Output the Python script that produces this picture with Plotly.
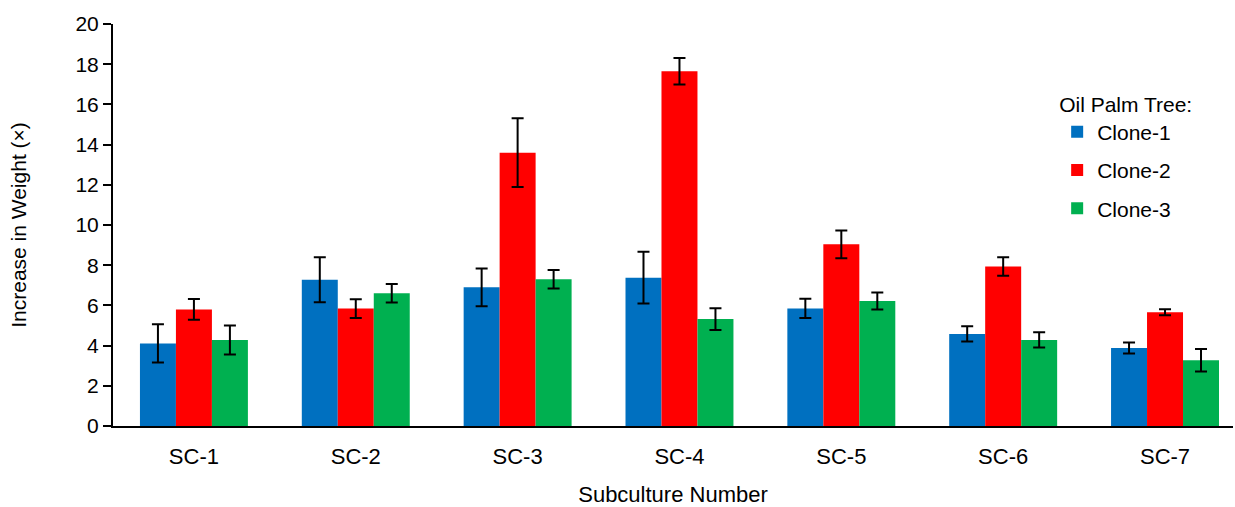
import plotly.graph_objects as go

categories = ["SC-1", "SC-2", "SC-3", "SC-4", "SC-5", "SC-6", "SC-7"]
clone1 = [4.11, 7.28, 6.90, 7.38, 5.85, 4.58, 3.88]
clone1_err = [0.95, 1.12, 0.94, 1.29, 0.48, 0.38, 0.27]
clone2 = [5.80, 5.84, 13.60, 17.65, 9.04, 7.94, 5.66]
clone2_err = [0.52, 0.47, 1.71, 0.66, 0.69, 0.46, 0.15]
clone3 = [4.28, 6.60, 7.30, 5.32, 6.22, 4.28, 3.27]
clone3_err = [0.72, 0.46, 0.46, 0.54, 0.42, 0.38, 0.56]

series = [
    ("Clone-1", clone1, clone1_err, "#0070C0"),
    ("Clone-2", clone2, clone2_err, "#FF0000"),
    ("Clone-3", clone3, clone3_err, "#00B050"),
]

fig = go.Figure()
for name, vals, errs, color in series:
    fig.add_trace(go.Bar(
        x=categories, y=vals, name=name, marker_color=color,
        marker_line_width=0, legendgroup=name,
        error_y=dict(type="data", array=errs, visible=True,
                     color="black", thickness=2, width=6),
    ))

font = "Liberation Sans, Arial, sans-serif"
fig.update_layout(
    width=1235, height=507,
    margin=dict(l=113, r=2, t=24, b=81),
    barmode="group", bargap=0.333, bargroupgap=0,
    plot_bgcolor="white", paper_bgcolor="white",
    font=dict(family=font, size=21, color="black"),
    showlegend=True,
    legend=dict(
        title=dict(text="Oil Palm Tree:", font=dict(size=21)),
        x=0.843, y=0.85, xanchor="left", yanchor="top",
        font=dict(size=21), traceorder="grouped", tracegroupgap=8,
        bgcolor="rgba(0,0,0,0)", itemwidth=30,
    ),
    xaxis=dict(
        range=[-0.5, 6.42], showline=True, linecolor="black", linewidth=2,
        ticks="", showgrid=False, tickfont=dict(size=22), ticklabelstandoff=10,
        automargin=False,
        title=dict(text="Subculture Number", font=dict(size=22), standoff=22),
    ),
    yaxis=dict(
        range=[0, 20], dtick=2, showline=True, linecolor="black", linewidth=2,
        ticks="outside", ticklen=8, tickwidth=1.5, tickcolor="black",
        showgrid=False, zeroline=False, tickfont=dict(size=21), automargin=False,
        title=dict(text="Increase in Weight (×)", font=dict(size=21), standoff=43),
    ),
)

fig.write_html("out.html")
